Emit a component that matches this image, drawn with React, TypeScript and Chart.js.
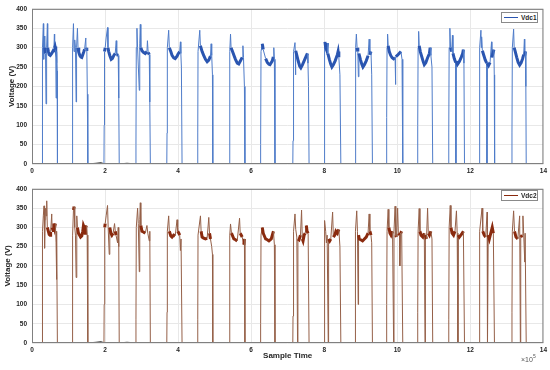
import React, { useEffect, useRef } from "react";
import { Chart, registerables } from "chart.js";

Chart.register(...registerables);

// ---- axis ticks ----
const xTickValues = [0, 2, 4, 6, 8, 10, 12, 14];
const yTickValues = [0, 50, 100, 150, 200, 250, 300, 350, 400];

// ---- Vdc1 samples: [sample time (x1e5), voltage (V)] ----
const vdc1: [number, number][] = [
  [0, 0], [0.28, 0], [0.284, 60], [0.29, 300], [0.311, 362], [0.32, 270], [0.335, 330], [0.35, 300], [0.37, 285], [0.384, 155], [0.4, 300], [0.421, 362], [0.43, 300], [0.448, 290], [0.47, 282], [0.5, 280], [0.54, 285], [0.58, 292], [0.6, 298], [0.613, 335], [0.62, 300], [0.631, 303], [0.65, 295], [0.66, 170], [0.675, 290], [0.69, 240], [0.697, 0],
  [1.1, 0], [1.107, 40], [1.115, 300], [1.135, 362], [1.15, 290], [1.17, 320], [1.19, 300], [1.208, 160], [1.22, 300], [1.244, 350], [1.26, 300], [1.28, 288], [1.31, 280], [1.34, 276], [1.363, 275], [1.39, 282], [1.42, 290], [1.44, 296], [1.473, 325], [1.48, 295], [1.5, 300], [1.515, 180], [1.528, 0],
  [1.75, 2], [1.9, 4], [1.97, 0], [1.976, 100], [1.985, 290], [2.004, 300], [2.03, 325], [2.068, 352], [2.08, 300], [2.1, 290], [2.13, 280], [2.169, 270], [2.2, 272], [2.24, 280], [2.278, 285], [2.306, 318], [2.32, 282], [2.36, 280], [2.375, 170], [2.388, 0],
  [2.6, 2], [2.84, 0], [2.846, 50], [2.855, 300], [2.873, 350], [2.89, 300], [2.937, 190], [2.95, 310], [2.965, 360], [2.98, 300], [3.01, 292], [3.05, 288], [3.1, 285], [3.147, 290], [3.16, 318], [3.18, 288], [3.21, 282], [3.225, 160], [3.24, 0],
  [3.69, 0], [3.697, 80], [3.705, 300], [3.742, 345], [3.76, 300], [3.8, 290], [3.834, 280], [3.88, 274], [3.92, 272], [3.971, 278], [4.0, 284], [4.044, 290], [4.063, 315], [4.075, 285], [4.09, 250], [4.108, 0],
  [4.53, 0], [4.538, 80], [4.545, 290], [4.593, 345], [4.61, 305], [4.657, 290], [4.7, 280], [4.749, 270], [4.795, 264], [4.84, 268], [4.886, 278], [4.904, 310], [4.92, 280], [4.94, 230], [4.95, 0],
  [5.4, 0], [5.408, 80], [5.42, 290], [5.435, 335], [5.45, 300], [5.49, 290], [5.53, 280], [5.57, 270], [5.62, 260], [5.66, 258], [5.7, 265], [5.755, 275], [5.774, 305], [5.79, 275], [5.815, 200], [5.829, 0],
  [6.25, 0], [6.259, 50], [6.27, 290], [6.304, 310], [6.33, 295], [6.396, 272], [6.442, 262], [6.487, 257], [6.515, 256], [6.579, 266], [6.606, 276], [6.62, 300], [6.635, 270], [6.652, 0],
  [7.14, 0], [7.146, 60], [7.16, 290], [7.2, 313], [7.21, 285], [7.215, 230], [7.22, 292], [7.25, 280], [7.29, 265], [7.33, 252], [7.36, 248], [7.4, 255], [7.45, 266], [7.5, 277], [7.54, 285], [7.555, 260], [7.57, 200], [7.585, 0],
  [7.995, 0], [8.0, 80], [8.01, 290], [8.02, 315], [8.04, 300], [8.06, 295], [8.09, 312], [8.1, 285], [8.14, 270], [8.18, 257], [8.21, 250], [8.25, 256], [8.3, 266], [8.36, 282], [8.38, 290], [8.4, 275], [8.43, 230], [8.455, 0],
  [8.845, 0], [8.855, 100], [8.865, 300], [8.88, 335], [8.9, 300], [8.92, 290], [8.935, 225], [8.95, 285], [8.99, 270], [9.03, 257], [9.06, 250], [9.1, 256], [9.15, 266], [9.2, 279], [9.23, 322], [9.25, 282], [9.28, 290], [9.3, 230], [9.32, 0],
  [9.7, 0], [9.71, 120], [9.72, 300], [9.735, 335], [9.75, 305], [9.78, 290], [9.82, 280], [9.86, 274], [9.9, 271], [9.94, 274], [9.95, 205], [9.96, 277], [10.0, 280], [10.05, 285], [10.1, 290], [10.13, 270], [10.15, 0],
  [10.555, 0], [10.56, 100], [10.57, 300], [10.585, 342], [10.6, 305], [10.63, 290], [10.67, 277], [10.71, 264], [10.74, 256], [10.78, 261], [10.83, 274], [10.88, 285], [10.9, 300], [10.92, 280], [10.95, 250], [10.97, 0],
  [11.405, 0], [11.41, 80], [11.42, 300], [11.44, 350], [11.46, 300], [11.49, 290], [11.51, 332], [11.525, 285], [11.56, 272], [11.6, 262], [11.605, 0], [11.615, 265], [11.65, 257], [11.7, 264], [11.75, 275], [11.79, 285], [11.81, 295], [11.825, 260], [11.84, 0],
  [12.245, 0], [12.25, 60], [12.26, 300], [12.29, 345], [12.3, 300], [12.31, 328], [12.33, 292], [12.37, 280], [12.41, 268], [12.45, 260], [12.455, 0], [12.465, 260], [12.5, 254], [12.54, 262], [12.58, 315], [12.59, 275], [12.62, 285], [12.645, 295], [12.655, 230], [12.665, 0],
  [13.135, 0], [13.14, 80], [13.15, 300], [13.185, 348], [13.2, 300], [13.23, 290], [13.27, 275], [13.31, 262], [13.35, 255], [13.39, 261], [13.43, 271], [13.46, 282], [13.48, 322], [13.49, 280], [13.51, 290], [13.52, 200], [13.53, 0], [14, 0],
];

// ---- Vdc2 samples: [sample time (x1e5), voltage (V)] ----
const vdc2: [number, number][] = [
  [0, 0], [0.28, 0], [0.284, 60], [0.29, 290], [0.31, 330], [0.329, 356], [0.34, 300], [0.35, 246], [0.36, 320], [0.375, 350], [0.385, 330], [0.403, 369], [0.42, 300], [0.448, 290], [0.47, 282], [0.494, 280], [0.51, 288], [0.54, 335], [0.55, 300], [0.58, 292], [0.6, 310], [0.62, 300], [0.64, 310], [0.659, 260], [0.67, 165], [0.68, 290], [0.695, 0],
  [1.1, 0], [1.107, 40], [1.115, 280], [1.135, 345], [1.153, 354], [1.17, 300], [1.19, 280], [1.208, 170], [1.226, 330], [1.244, 300], [1.272, 285], [1.3, 280], [1.33, 275], [1.363, 278], [1.39, 290], [1.409, 305], [1.43, 300], [1.455, 285], [1.47, 300], [1.49, 305], [1.51, 280], [1.528, 0],
  [1.75, 2], [1.9, 4], [1.97, 0], [1.976, 100], [1.99, 300], [2.004, 310], [2.03, 330], [2.068, 357], [2.085, 300], [2.114, 230], [2.13, 300], [2.16, 285], [2.187, 280], [2.22, 285], [2.26, 310], [2.28, 290], [2.3, 280], [2.342, 260], [2.36, 300], [2.375, 250], [2.388, 0],
  [2.6, 2], [2.84, 0], [2.846, 60], [2.855, 300], [2.891, 350], [2.91, 310], [2.937, 185], [2.95, 320], [2.965, 364], [2.98, 305], [3.01, 290], [3.05, 288], [3.101, 285], [3.147, 305], [3.17, 285], [3.21, 265], [3.225, 290], [3.24, 0],
  [3.69, 0], [3.697, 80], [3.705, 290], [3.742, 330], [3.76, 290], [3.8, 278], [3.834, 275], [3.88, 280], [3.92, 278], [3.971, 320], [3.99, 290], [4.02, 285], [4.044, 280], [4.063, 240], [4.08, 270], [4.108, 0],
  [4.53, 0], [4.538, 60], [4.545, 280], [4.612, 330], [4.63, 290], [4.657, 275], [4.7, 272], [4.749, 270], [4.795, 272], [4.84, 326], [4.86, 285], [4.886, 270], [4.92, 250], [4.94, 230], [4.95, 0],
  [5.4, 0], [5.408, 60], [5.42, 280], [5.435, 309], [5.46, 285], [5.527, 270], [5.572, 268], [5.618, 265], [5.682, 324], [5.7, 285], [5.755, 275], [5.8, 255], [5.815, 270], [5.829, 0],
  [6.25, 0], [6.259, 50], [6.27, 280], [6.304, 300], [6.33, 285], [6.396, 270], [6.442, 268], [6.487, 265], [6.55, 270], [6.579, 280], [6.61, 290], [6.635, 255], [6.652, 0],
  [7.14, 0], [7.146, 70], [7.16, 290], [7.2, 335], [7.22, 295], [7.25, 275], [7.27, 0], [7.28, 270], [7.31, 268], [7.35, 280], [7.38, 345], [7.4, 270], [7.42, 265], [7.45, 280], [7.48, 285], [7.51, 305], [7.53, 290], [7.56, 285], [7.585, 0],
  [7.995, 0], [8.0, 60], [8.01, 280], [8.02, 318], [8.04, 290], [8.06, 260], [8.08, 280], [8.11, 0], [8.12, 270], [8.15, 265], [8.18, 270], [8.23, 340], [8.25, 275], [8.29, 280], [8.32, 290], [8.36, 285], [8.4, 295], [8.43, 250], [8.455, 0],
  [8.845, 0], [8.85, 80], [8.86, 290], [8.89, 343], [8.91, 290], [8.93, 100], [8.94, 280], [8.96, 270], [9.0, 268], [9.05, 265], [9.1, 270], [9.15, 275], [9.2, 285], [9.23, 335], [9.25, 290], [9.28, 280], [9.3, 260], [9.32, 0],
  [9.705, 0], [9.71, 100], [9.72, 290], [9.75, 347], [9.77, 300], [9.8, 285], [9.83, 280], [9.87, 290], [9.9, 0], [9.91, 290], [9.94, 355], [9.96, 280], [9.98, 275], [10.01, 350], [10.03, 285], [10.06, 280], [10.07, 200], [10.09, 285], [10.12, 290], [10.15, 0],
  [10.555, 0], [10.56, 80], [10.57, 290], [10.6, 349], [10.62, 290], [10.65, 280], [10.7, 275], [10.74, 285], [10.76, 0], [10.77, 280], [10.8, 270], [10.83, 350], [10.85, 285], [10.88, 280], [10.92, 290], [10.95, 270], [10.97, 0],
  [11.405, 0], [11.41, 60], [11.42, 300], [11.45, 357], [11.47, 300], [11.5, 285], [11.54, 280], [11.58, 290], [11.62, 343], [11.64, 285], [11.66, 0], [11.67, 280], [11.7, 275], [11.74, 280], [11.78, 285], [11.81, 290], [11.84, 0],
  [12.245, 0], [12.25, 60], [12.26, 290], [12.32, 350], [12.34, 290], [12.38, 280], [12.42, 275], [12.46, 340], [12.47, 0], [12.49, 280], [12.52, 270], [12.56, 285], [12.6, 300], [12.63, 285], [12.66, 0],
  [13.135, 0], [13.14, 80], [13.15, 290], [13.185, 343], [13.21, 290], [13.25, 275], [13.3, 270], [13.35, 330], [13.37, 0], [13.38, 275], [13.42, 280], [13.44, 330], [13.46, 285], [13.49, 210], [13.5, 285], [13.53, 0], [14, 0],
];

const FONT = "'Liberation Sans', Arial, Helvetica, sans-serif";
const TEXT = "#262626";

const boxPlugin = {
  id: "axesBox",
  afterDraw(chart: any) {
    const { ctx, chartArea: a } = chart;
    ctx.save();
    ctx.strokeStyle = "#808080";
    ctx.lineWidth = 1;
    ctx.strokeRect(a.left + 0.5, a.top + 0.5, a.right - a.left - 1, a.bottom - a.top - 1);
    ctx.restore();
  },
};

type Cfg = {
  series: [number, number][];
  thick: string;
  thin: string;
  padTop: number;
  xAxisHeight: number;
  yTitlePad: number;
  xTitle?: string;
};

function buildChart(canvas: HTMLCanvasElement, c: Cfg) {
  return new Chart(canvas, {
    type: "line",
    data: {
      datasets: [
        {
          data: c.series.map(([x, y]) => ({ x, y })),
          borderColor: c.thick,
          borderWidth: 1,
          pointRadius: 0,
          tension: 0,
          segment: {
            borderWidth: (ctx: any) => {
              const a = ctx.p0.parsed.y, b = ctx.p1.parsed.y;
              if (a < 20 && b < 20) return 1;
              return Math.abs(b - a) > 18 ? 1 : 3;
            },
            borderColor: (ctx: any) => {
              const a = ctx.p0.parsed.y, b = ctx.p1.parsed.y;
              if (a < 20 && b < 20) return "#555555";
              return Math.abs(b - a) > 18 ? c.thin : c.thick;
            },
          },
        },
      ],
    },
    options: {
      responsive: false,
      animation: false,
      devicePixelRatio: 1,
      parsing: false,
      normalized: true,
      layout: { padding: { top: c.padTop, right: 4.5, left: 0, bottom: 0 } },
      plugins: { legend: { display: false }, tooltip: { enabled: false } },
      scales: {
        x: {
          type: "linear",
          min: 0,
          max: 14,
          afterBuildTicks: (s: any) => {
            s.ticks = xTickValues.map((v) => ({ value: v }));
          },
          afterFit: (s: any) => {
            s.height = c.xAxisHeight;
          },
          grid: { color: "#e8e8e8", drawTicks: false },
          border: { display: false },
          ticks: {
            padding: 3,
            maxRotation: 0,
            color: TEXT,
            font: { family: FONT, size: 6.5, weight: "bold" },
          },
          title: c.xTitle
            ? {
                display: true,
                text: c.xTitle,
                color: TEXT,
                font: { family: FONT, size: 8, weight: "bold" },
                padding: { top: 0, bottom: 9 },
              }
            : { display: false },
        },
        y: {
          type: "linear",
          min: 0,
          max: 400,
          afterBuildTicks: (s: any) => {
            s.ticks = yTickValues.map((v) => ({ value: v }));
          },
          afterFit: (s: any) => {
            s.width = 32;
          },
          grid: { color: "#e8e8e8", drawTicks: false },
          border: { display: false },
          ticks: {
            padding: 5,
            color: TEXT,
            font: { family: FONT, size: 6.5, weight: "bold" },
          },
          title: {
            display: true,
            text: "Voltage (V)",
            color: TEXT,
            font: { family: FONT, size: 8, weight: "bold" },
            padding: { top: c.yTitlePad, bottom: 0 },
          },
        },
      },
    },
    plugins: [boxPlugin],
  } as any);
}

function Legend({ left, top, color, label }: { left: number; top: number; color: string; label: string }) {
  return (
    <div
      style={{
        position: "absolute",
        left,
        top,
        width: 37,
        height: 11,
        boxSizing: "border-box",
        border: "1px solid #8a8a8a",
        background: "#ffffff",
      }}
    >
      <div style={{ position: "absolute", left: 2, top: 4, width: 14, height: 0, borderTop: `1px solid ${color}` }} />
      <span
        style={{
          position: "absolute",
          left: 19,
          top: 0,
          fontFamily: FONT,
          fontSize: 6.5,
          fontWeight: "bold",
          lineHeight: "9px",
          color: TEXT,
          whiteSpace: "nowrap",
        }}
      >
        {label}
      </span>
    </div>
  );
}

export default function App() {
  const topRef = useRef<HTMLCanvasElement>(null);
  const botRef = useRef<HTMLCanvasElement>(null);

  useEffect(() => {
    const c1 = buildChart(topRef.current!, {
      series: vdc1,
      thick: "#2a55b0",
      thin: "#4f7cc9",
      padTop: 3.4,
      xAxisHeight: 16,
      yTitlePad: 7,
    });
    const c2 = buildChart(botRef.current!, {
      series: vdc2,
      thick: "#8a2a0e",
      thin: "#956048",
      padTop: 2.4,
      xAxisHeight: 27,
      yTitlePad: 3,
      xTitle: "Sample Time",
    });
    return () => {
      c1.destroy();
      c2.destroy();
    };
  }, []);

  return (
    <div style={{ position: "fixed", left: 0, top: 0, width: 550, height: 370, background: "#ffffff", overflow: "hidden" }}>
      <canvas ref={topRef} width={550} height={180} style={{ position: "absolute", left: 0, top: 0 }} />
      <canvas ref={botRef} width={550} height={190} style={{ position: "absolute", left: 0, top: 180 }} />
      <Legend left={501} top={12} color="#2a55b0" label="Vdc1" />
      <Legend left={501} top={190} color="#8a2a0e" label="Vdc2" />
      <span
        style={{
          position: "absolute",
          left: 521,
          top: 355,
          fontFamily: FONT,
          fontSize: 7,
          color: "#555555",
          whiteSpace: "nowrap",
          lineHeight: "10px",
        }}
      >
        ×10<sup style={{ fontSize: 5, verticalAlign: "4px", lineHeight: 0 }}>5</sup>
      </span>
    </div>
  );
}
